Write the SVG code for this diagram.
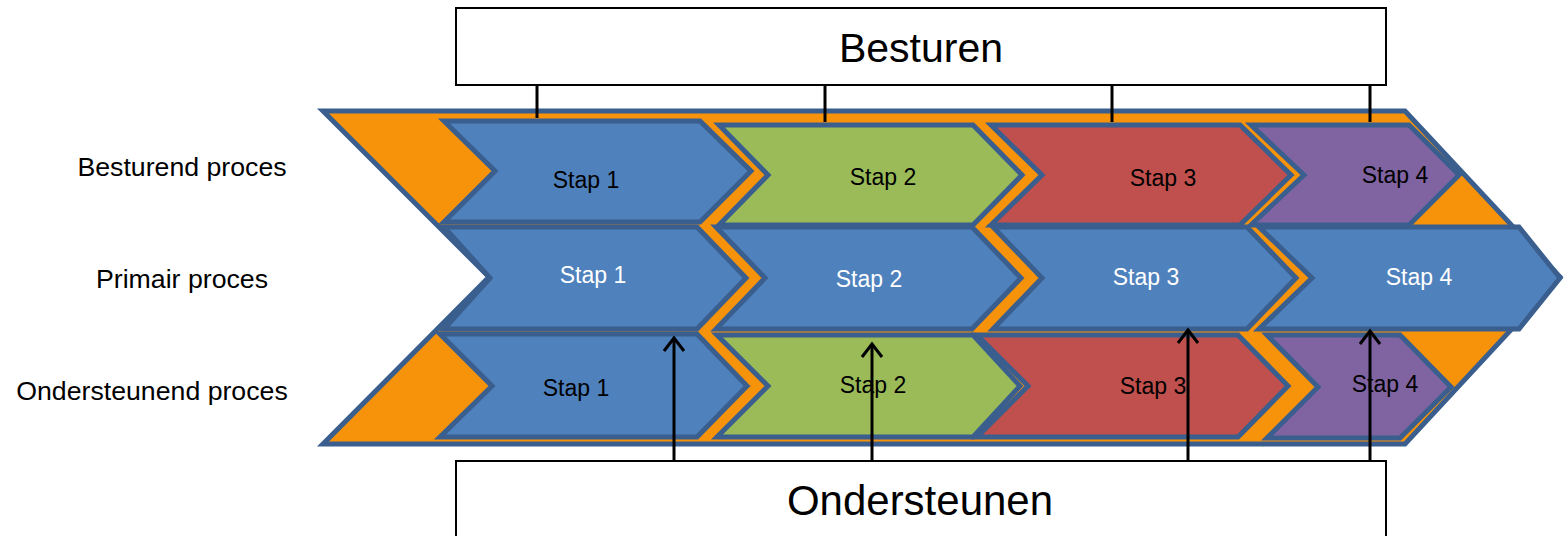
<svg xmlns="http://www.w3.org/2000/svg" width="1564" height="536" viewBox="0 0 1564 536">
<defs>
<style>
.lbl{font-family:"Liberation Sans",Arial,sans-serif;fill:#000;}
.side{font-size:26.7px;text-anchor:middle;}
.stap{font-size:23px;text-anchor:middle;}
.w{fill:#fff;}
.box{fill:#fff;stroke:#000;stroke-width:2;}
.chev{stroke:#3A5F8E;stroke-width:5;stroke-linejoin:miter;}
.blue{fill:#4F81BD;}
.green{fill:#9BBB59;}
.red{fill:#C0504D;}
.purple{fill:#8064A2;}
.conn{stroke:#000;stroke-width:3;fill:none;}
</style>
<marker id="arr" viewBox="0 0 20 24" refX="16" refY="12" markerWidth="20" markerHeight="24" markerUnits="userSpaceOnUse" orient="auto">
<path d="M3,2 L16,12 L3,22" fill="none" stroke="#000" stroke-width="3"/>
</marker>
</defs>
<rect width="1564" height="536" fill="#fff"/>

<g id="labels">
<text class="lbl side" x="182" y="176">Besturend proces</text>
<text class="lbl side" x="182" y="288">Primair proces</text>
<text class="lbl side" x="152" y="400">Ondersteunend proces</text>
</g>

<g id="backbone">
<polygon points="323,111 1405,111 1560,277 1405,444 323,444 489,277" fill="#F7930B" stroke="#3A5F8E" stroke-width="5"/>
</g>

<g id="besturen">
<rect class="box" x="456" y="8" width="930" height="77"/>
<text class="lbl" x="921" y="62" font-size="41" text-anchor="middle">Besturen</text>
</g>

<g id="ondersteunen">
<rect class="box" x="456" y="461" width="930" height="90"/>
<text class="lbl" x="920" y="515" font-size="42" text-anchor="middle">Ondersteunen</text>
</g>

<g id="row1-stap1"><polygon class="chev blue" points="444,121 700,121 751,171 700,222 444,222 495,171"/><text class="lbl stap" x="586" y="188">Stap 1</text></g>
<g id="row1-stap2"><polygon class="chev green" points="719,125 973,125 1022,175 973,225 719,225 768,175"/><text class="lbl stap" x="883" y="185">Stap 2</text></g>
<g id="row1-stap3"><polygon class="chev red" points="991,125 1240,125 1291,175 1240,225 991,225 1042,175"/><text class="lbl stap" x="1163" y="186">Stap 3</text></g>
<g id="row1-stap4"><polygon class="chev purple" points="1251,125 1409,125 1459,175 1409,225 1251,225 1304,175"/><text class="lbl stap" x="1395" y="183">Stap 4</text></g>

<g id="row2-stap1"><polygon class="chev blue" points="444,227 697,227 746,278 697,329 444,329 490,278"/><text class="lbl stap w" x="593" y="283">Stap 1</text></g>
<g id="row2-stap2"><polygon class="chev blue" points="716,227 972,227 1021,278 972,329 716,329 765,278"/><text class="lbl stap w" x="869" y="287">Stap 2</text></g>
<g id="row2-stap3"><polygon class="chev blue" points="993,227 1247,227 1296,278 1247,329 993,329 1042,278"/><text class="lbl stap w" x="1146" y="285">Stap 3</text></g>
<g id="row2-stap4"><polygon class="chev blue" points="1259,227 1519,227 1560,278 1519,329 1259,329 1312,278"/><text class="lbl stap w" x="1419" y="285">Stap 4</text></g>

<g id="row3-stap1"><polygon class="chev blue" points="440,334 697,334 747,386 697,437 440,437 492,386"/><text class="lbl stap" x="576" y="396">Stap 1</text></g>
<g id="row3-stap2"><polygon class="chev green" points="717,335 973,335 1020,386 973,437 717,437 768,386"/><text class="lbl stap" x="873" y="393">Stap 2</text></g>
<g id="row3-stap3"><polygon class="chev red" points="977,335 1238,335 1288,386 1238,437 977,437 1028,386"/><text class="lbl stap" x="1153" y="394">Stap 3</text></g>
<g id="row3-stap4"><polygon class="chev purple" points="1267,335 1400,335 1451,387 1400,438 1267,438 1318,387"/><text class="lbl stap" x="1385" y="392">Stap 4</text></g>

<g id="connectors">
<line class="conn" x1="537" y1="85" x2="537" y2="118"/>
<line class="conn" x1="825" y1="85" x2="825" y2="122"/>
<line class="conn" x1="1112" y1="85" x2="1112" y2="122"/>
<line class="conn" x1="1370" y1="85" x2="1370" y2="122"/>
<line class="conn" x1="674" y1="460" x2="674" y2="338" marker-end="url(#arr)"/>
<line class="conn" x1="872" y1="460" x2="872" y2="344" marker-end="url(#arr)"/>
<line class="conn" x1="1188" y1="460" x2="1188" y2="330" marker-end="url(#arr)"/>
<line class="conn" x1="1370" y1="460" x2="1370" y2="331" marker-end="url(#arr)"/>
</g>
</svg>
